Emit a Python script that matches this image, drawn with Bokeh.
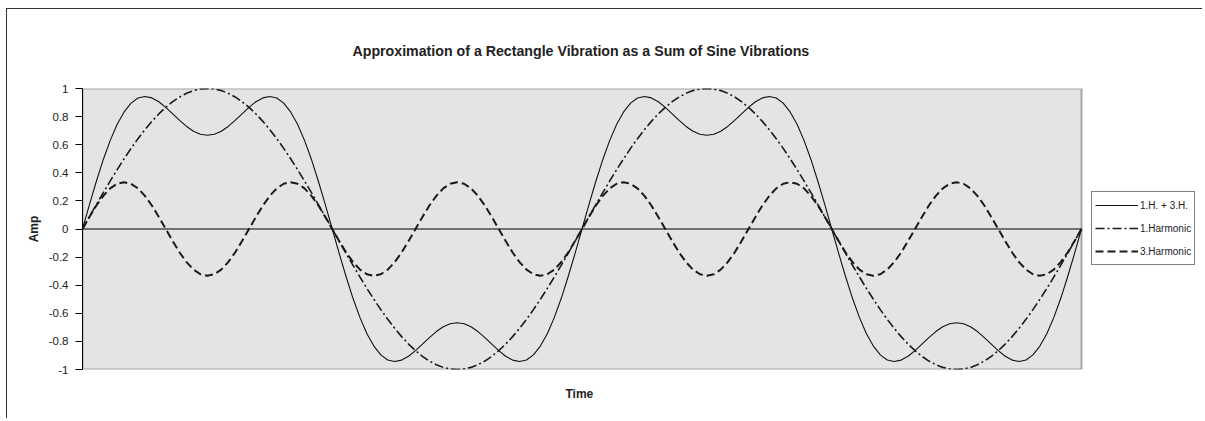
from bokeh.plotting import figure
from bokeh.models import Range1d, Legend, LegendItem, FixedTicker, CustomJSTickFormatter, Title
from bokeh.embed import file_html
from bokeh.resources import INLINE

# time in degrees of the fundamental (0..720, every 5 degrees)
time = list(range(0, 721, 5))

sum_13 = [
    0, 0.174, 0.34, 0.495, 0.631, 0.745, 0.833, 0.896, 0.932, 0.943, 0.933, 0.906,
    0.866, 0.82, 0.773, 0.73, 0.696, 0.674, 0.667, 0.674, 0.696, 0.73, 0.773, 0.82,
    0.866, 0.906, 0.933, 0.943, 0.932, 0.896, 0.833, 0.745, 0.631, 0.495, 0.34, 0.174,
    0, -0.174, -0.34, -0.495, -0.631, -0.745, -0.833, -0.896, -0.932, -0.943, -0.933, -0.906,
    -0.866, -0.82, -0.773, -0.73, -0.696, -0.674, -0.667, -0.674, -0.696, -0.73, -0.773, -0.82,
    -0.866, -0.906, -0.933, -0.943, -0.932, -0.896, -0.833, -0.745, -0.631, -0.495, -0.34, -0.174,
    0, 0.174, 0.34, 0.495, 0.631, 0.745, 0.833, 0.896, 0.932, 0.943, 0.933, 0.906,
    0.866, 0.82, 0.773, 0.73, 0.696, 0.674, 0.667, 0.674, 0.696, 0.73, 0.773, 0.82,
    0.866, 0.906, 0.933, 0.943, 0.932, 0.896, 0.833, 0.745, 0.631, 0.495, 0.34, 0.174,
    0, -0.174, -0.34, -0.495, -0.631, -0.745, -0.833, -0.896, -0.932, -0.943, -0.933, -0.906,
    -0.866, -0.82, -0.773, -0.73, -0.696, -0.674, -0.667, -0.674, -0.696, -0.73, -0.773, -0.82,
    -0.866, -0.906, -0.933, -0.943, -0.932, -0.896, -0.833, -0.745, -0.631, -0.495, -0.34, -0.174,
    0]

harm1 = [
    0, 0.087, 0.174, 0.259, 0.342, 0.423, 0.5, 0.574, 0.643, 0.707, 0.766, 0.819,
    0.866, 0.906, 0.94, 0.966, 0.985, 0.996, 1, 0.996, 0.985, 0.966, 0.94, 0.906,
    0.866, 0.819, 0.766, 0.707, 0.643, 0.574, 0.5, 0.423, 0.342, 0.259, 0.174, 0.087,
    0, -0.087, -0.174, -0.259, -0.342, -0.423, -0.5, -0.574, -0.643, -0.707, -0.766, -0.819,
    -0.866, -0.906, -0.94, -0.966, -0.985, -0.996, -1, -0.996, -0.985, -0.966, -0.94, -0.906,
    -0.866, -0.819, -0.766, -0.707, -0.643, -0.574, -0.5, -0.423, -0.342, -0.259, -0.174, -0.087,
    0, 0.087, 0.174, 0.259, 0.342, 0.423, 0.5, 0.574, 0.643, 0.707, 0.766, 0.819,
    0.866, 0.906, 0.94, 0.966, 0.985, 0.996, 1, 0.996, 0.985, 0.966, 0.94, 0.906,
    0.866, 0.819, 0.766, 0.707, 0.643, 0.574, 0.5, 0.423, 0.342, 0.259, 0.174, 0.087,
    0, -0.087, -0.174, -0.259, -0.342, -0.423, -0.5, -0.574, -0.643, -0.707, -0.766, -0.819,
    -0.866, -0.906, -0.94, -0.966, -0.985, -0.996, -1, -0.996, -0.985, -0.966, -0.94, -0.906,
    -0.866, -0.819, -0.766, -0.707, -0.643, -0.574, -0.5, -0.423, -0.342, -0.259, -0.174, -0.087,
    0]

harm3 = [
    0, 0.086, 0.167, 0.236, 0.289, 0.322, 0.333, 0.322, 0.289, 0.236, 0.167, 0.086,
    0, -0.086, -0.167, -0.236, -0.289, -0.322, -0.333, -0.322, -0.289, -0.236, -0.167, -0.086,
    0, 0.086, 0.167, 0.236, 0.289, 0.322, 0.333, 0.322, 0.289, 0.236, 0.167, 0.086,
    0, -0.086, -0.167, -0.236, -0.289, -0.322, -0.333, -0.322, -0.289, -0.236, -0.167, -0.086,
    0, 0.086, 0.167, 0.236, 0.289, 0.322, 0.333, 0.322, 0.289, 0.236, 0.167, 0.086,
    0, -0.086, -0.167, -0.236, -0.289, -0.322, -0.333, -0.322, -0.289, -0.236, -0.167, -0.086,
    0, 0.086, 0.167, 0.236, 0.289, 0.322, 0.333, 0.322, 0.289, 0.236, 0.167, 0.086,
    0, -0.086, -0.167, -0.236, -0.289, -0.322, -0.333, -0.322, -0.289, -0.236, -0.167, -0.086,
    0, 0.086, 0.167, 0.236, 0.289, 0.322, 0.333, 0.322, 0.289, 0.236, 0.167, 0.086,
    0, -0.086, -0.167, -0.236, -0.289, -0.322, -0.333, -0.322, -0.289, -0.236, -0.167, -0.086,
    0, 0.086, 0.167, 0.236, 0.289, 0.322, 0.333, 0.322, 0.289, 0.236, 0.167, 0.086,
    0, -0.086, -0.167, -0.236, -0.289, -0.322, -0.333, -0.322, -0.289, -0.236, -0.167, -0.086,
    0]

y_ticks = [-1, -0.8, -0.6, -0.4, -0.2, 0, 0.2, 0.4, 0.6, 0.8, 1]
series_names = ["1.H. + 3.H.", "1.Harmonic", "3.Harmonic"]
title_text = "Approximation of a Rectangle Vibration as a Sum of Sine Vibrations"

FONT = "Liberation Sans"
TXT = "#222222"

# layout (pixels)
W, H = 1196, 410
BL, BT, BR, BB = 75, 79, 5, 50
frame_w = W - BL - BR
area_w = 999                      # width of the grey plot area in px
t0, t1 = time[0], time[-1]
x_end = t0 + (t1 - t0) * frame_w / area_w

p = figure(width=W, height=H, output_backend="svg", toolbar_location=None,
           x_range=Range1d(t0, x_end), y_range=Range1d(-1, 1),
           min_border_left=BL, min_border_top=BT, min_border_right=BR, min_border_bottom=BB)
p.styles = {"margin-left": "6px", "margin-top": "8px",
            "border-left": "1px solid #333333", "border-top": "1px solid #333333"}

p.title.text = title_text
p.title.align = "left"
p.title.offset = 270
p.title.text_font = FONT
p.title.text_font_size = "14.2px"
p.title.text_font_style = "bold"
p.title.text_color = TXT
p.title.standoff = 59

p.background_fill_color = "white"
p.border_fill_color = "white"
p.outline_line_color = None
p.grid.visible = False

# grey plot area
p.quad(left=t0, right=t1, bottom=y_ticks[0], top=y_ticks[-1],
       fill_color="#e4e4e4", line_color="#a6a6a6", line_width=2)

# y axis
p.yaxis.ticker = FixedTicker(ticks=y_ticks)
p.yaxis.formatter = CustomJSTickFormatter(code="var s = tick.toFixed(1); return s.replace(/\\.0$/, '');")
p.yaxis.major_tick_out = 7
p.yaxis.major_tick_in = 0
p.yaxis.minor_tick_out = 0
p.yaxis.minor_tick_in = 0
p.yaxis.axis_line_color = "black"
p.yaxis.major_tick_line_color = "black"
p.yaxis.major_label_standoff = 7
p.yaxis.major_label_text_font = FONT
p.yaxis.major_label_text_font_size = "11.5px"
p.yaxis.major_label_text_color = TXT
p.yaxis.axis_label = "Amp"
p.yaxis.axis_label_text_font = FONT
p.yaxis.axis_label_text_font_size = "12px"
p.yaxis.axis_label_text_font_style = "bold"
p.yaxis.axis_label_text_color = TXT
p.yaxis.axis_label_standoff = 5

# x axis: no ticks; its title as a Title below
p.xaxis.visible = False
p.add_layout(Title(text="Time", align="left", offset=483, standoff=30,
                   text_font=FONT, text_font_size="12px", text_font_style="bold",
                   text_color=TXT), "below")

# category axis crossing at 0
p.segment(x0=t0, y0=0, x1=t1, y1=0, line_color="black", line_width=1)

r_sum = p.line(time, sum_13, line_color="#111111", line_width=1.1, line_join="round")
r_h1 = p.line(time, harm1, line_color="#1a1a1a", line_width=1.6, line_dash="9 3 2 3", line_join="round")
r_h3 = p.line(time, harm3, line_color="#1a1a1a", line_width=2.0, line_dash="8 4", line_join="round")

legend = Legend(items=[LegendItem(label=series_names[0], renderers=[r_sum]),
                       LegendItem(label=series_names[1], renderers=[r_h1]),
                       LegendItem(label=series_names[2], renderers=[r_h3])],
                location=(1009, 104))
legend.margin = 0
legend.padding = 3
legend.spacing = 3
legend.glyph_width = 43
legend.glyph_height = 20
legend.label_height = 20
legend.label_standoff = 2
legend.label_text_font = FONT
legend.label_text_font_size = "10px"
legend.label_text_color = TXT
legend.border_line_color = "black"
legend.border_line_width = 1
legend.background_fill_color = "white"
legend.background_fill_alpha = 1
p.add_layout(legend)

open("out.html", "w").write(file_html(p, INLINE))
